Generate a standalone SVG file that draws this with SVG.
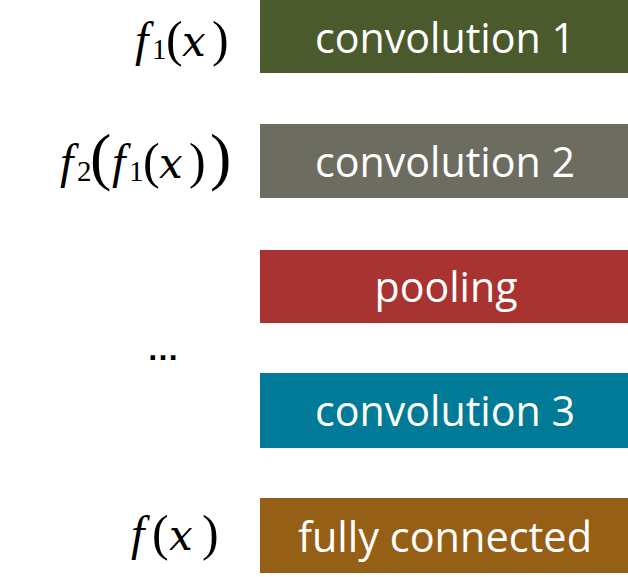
<svg xmlns="http://www.w3.org/2000/svg" width="628" height="577" viewBox="0 0 628 577">
<style>
.lbl{font-family:"Open Sans","Liberation Sans",sans-serif;font-size:42px;fill:#ffffff;text-anchor:middle}
.m{font-family:"Liberation Serif","Times New Roman",serif;font-size:50px;fill:#000000}
.i{font-style:italic;font-size:48px}
.x{font-family:"DejaVu Serif",serif;font-style:italic;font-size:42px}
.s{font-size:29px}
.b{font-size:64px}
</style>
<rect width="628" height="577" fill="#ffffff"/>
<g id="connectors"></g>
<g id="conv1">
<rect x="260" y="0" width="368" height="73" fill="#4B5A2D"/>
<text class="lbl" x="445" y="53" textLength="260" lengthAdjust="spacingAndGlyphs">convolution 1</text>
</g>
<g id="conv2">
<rect x="260" y="124" width="368" height="74" fill="#6D6C61"/>
<text class="lbl" x="445" y="177" textLength="260" lengthAdjust="spacingAndGlyphs">convolution 2</text>
</g>
<g id="pooling">
<rect x="260" y="250" width="368" height="73" fill="#A83331"/>
<text class="lbl" x="446" y="302" textLength="143" lengthAdjust="spacingAndGlyphs">pooling</text>
</g>
<g id="conv3">
<rect x="260" y="373" width="368" height="75" fill="#007A96"/>
<text class="lbl" x="445" y="426" textLength="260" lengthAdjust="spacingAndGlyphs">convolution 3</text>
</g>
<g id="fc">
<rect x="260" y="498" width="368" height="75" fill="#955F16"/>
<text class="lbl" x="445" y="552" textLength="294" lengthAdjust="spacingAndGlyphs">fully connected</text>
</g>
<g id="label-f1">
<text class="m" y="56"><tspan class="i" x="135">f</tspan><tspan class="s" x="152" dy="3">1</tspan><tspan x="166" dy="-3">(</tspan><tspan class="x" x="182">x</tspan><tspan x="212">)</tspan></text>
</g>
<g id="label-f2f1">
<text class="m" y="178"><tspan class="i" x="60">f</tspan><tspan class="s" x="77" dy="3">2</tspan><tspan class="b" x="90" dy="-3">(</tspan><tspan class="i" x="112">f</tspan><tspan class="s" x="129" dy="3">1</tspan><tspan x="143" dy="-3">(</tspan><tspan class="x" x="159">x</tspan><tspan x="189">)</tspan><tspan class="b" x="210">)</tspan></text>
</g>
<g id="label-dots">
<text x="163" y="360" text-anchor="middle" font-family="Liberation Sans" font-weight="bold" font-size="32" fill="#000">…</text>
</g>
<g id="label-f">
<text class="m" y="550"><tspan class="i" x="131">f</tspan><tspan x="152">(</tspan><tspan class="x" x="169">x</tspan><tspan x="202">)</tspan></text>
</g>
</svg>
